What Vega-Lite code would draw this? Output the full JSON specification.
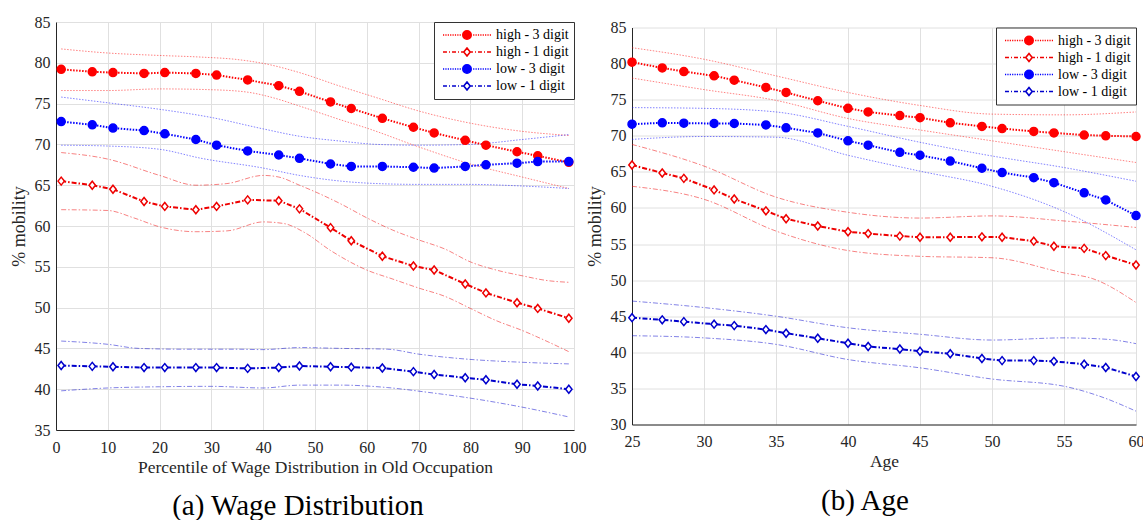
{
"$schema": "https://vega.github.io/schema/vega-lite/v6.json",
"background": "white",
"padding": {"left": 10, "top": 14, "right": 2, "bottom": 0},
"config": {
  "view": {"stroke": null},
  "font": "Liberation Serif",
  "axis": {"grid": true, "gridColor": "#e0e0e0", "gridWidth": 1, "domainColor": "#262626", "domainWidth": 1, "ticks": false, "labelFont": "Liberation Serif", "labelFontSize": 16, "labelColor": "#262626", "titleFont": "Liberation Serif", "titleFontSize": 17.5, "titleFontWeight": "normal", "titleColor": "#262626", "labelFlush": false, "labelOverlap": false},
  "axisX": {"labelPadding": 9, "titlePadding": 3},
  "axisY": {"labelPadding": 6, "titlePadding": 6, "titleFontSize": 18},
  "title": {"font": "Liberation Serif", "fontSize": 29, "fontWeight": "normal", "color": "black", "anchor": "middle", "frame": "bounds"},
  "legend": {"title": null, "orient": "top-right", "offset": 0, "padding": 5, "strokeColor": "#333333", "fillColor": "#ffffff", "cornerRadius": 0, "labelFont": "Liberation Serif", "labelFontSize": 14, "labelColor": "#000000", "labelLimit": 300, "symbolSize": 196, "symbolStrokeWidth": 1.6, "symbolOffset": 20, "labelOffset": 21, "rowPadding": 1, "symbolOpacity": 1}
},
"datasets": {
"a_main": [
{"x":1,"series":"high - 3 digit","y":79.2},{"x":7,"series":"high - 3 digit","y":78.9},{"x":11,"series":"high - 3 digit","y":78.8},{"x":17,"series":"high - 3 digit","y":78.7},{"x":21,"series":"high - 3 digit","y":78.8},{"x":27,"series":"high - 3 digit","y":78.7},{"x":31,"series":"high - 3 digit","y":78.5},{"x":37,"series":"high - 3 digit","y":77.9},{"x":43,"series":"high - 3 digit","y":77.2},{"x":47,"series":"high - 3 digit","y":76.5},{"x":53,"series":"high - 3 digit","y":75.2},{"x":57,"series":"high - 3 digit","y":74.4},{"x":63,"series":"high - 3 digit","y":73.2},{"x":69,"series":"high - 3 digit","y":72.1},{"x":73,"series":"high - 3 digit","y":71.4},{"x":79,"series":"high - 3 digit","y":70.5},{"x":83,"series":"high - 3 digit","y":69.9},{"x":89,"series":"high - 3 digit","y":69.1},{"x":93,"series":"high - 3 digit","y":68.6},{"x":99,"series":"high - 3 digit","y":67.8},
{"x":1,"series":"high - 1 digit","y":65.5},{"x":7,"series":"high - 1 digit","y":65.0},{"x":11,"series":"high - 1 digit","y":64.5},{"x":17,"series":"high - 1 digit","y":63.0},{"x":21,"series":"high - 1 digit","y":62.4},{"x":27,"series":"high - 1 digit","y":62.0},{"x":31,"series":"high - 1 digit","y":62.4},{"x":37,"series":"high - 1 digit","y":63.2},{"x":43,"series":"high - 1 digit","y":63.1},{"x":47,"series":"high - 1 digit","y":62.1},{"x":53,"series":"high - 1 digit","y":59.8},{"x":57,"series":"high - 1 digit","y":58.2},{"x":63,"series":"high - 1 digit","y":56.3},{"x":69,"series":"high - 1 digit","y":55.1},{"x":73,"series":"high - 1 digit","y":54.6},{"x":79,"series":"high - 1 digit","y":52.9},{"x":83,"series":"high - 1 digit","y":51.8},{"x":89,"series":"high - 1 digit","y":50.6},{"x":93,"series":"high - 1 digit","y":49.9},{"x":99,"series":"high - 1 digit","y":48.7},
{"x":1,"series":"low - 3 digit","y":72.8},{"x":7,"series":"low - 3 digit","y":72.4},{"x":11,"series":"low - 3 digit","y":72.0},{"x":17,"series":"low - 3 digit","y":71.7},{"x":21,"series":"low - 3 digit","y":71.3},{"x":27,"series":"low - 3 digit","y":70.6},{"x":31,"series":"low - 3 digit","y":69.9},{"x":37,"series":"low - 3 digit","y":69.2},{"x":43,"series":"low - 3 digit","y":68.7},{"x":47,"series":"low - 3 digit","y":68.3},{"x":53,"series":"low - 3 digit","y":67.6},{"x":57,"series":"low - 3 digit","y":67.3},{"x":63,"series":"low - 3 digit","y":67.3},{"x":69,"series":"low - 3 digit","y":67.2},{"x":73,"series":"low - 3 digit","y":67.1},{"x":79,"series":"low - 3 digit","y":67.3},{"x":83,"series":"low - 3 digit","y":67.5},{"x":89,"series":"low - 3 digit","y":67.7},{"x":93,"series":"low - 3 digit","y":67.9},{"x":99,"series":"low - 3 digit","y":67.9},
{"x":1,"series":"low - 1 digit","y":42.9},{"x":7,"series":"low - 1 digit","y":42.8},{"x":11,"series":"low - 1 digit","y":42.75},{"x":17,"series":"low - 1 digit","y":42.65},{"x":21,"series":"low - 1 digit","y":42.65},{"x":27,"series":"low - 1 digit","y":42.65},{"x":31,"series":"low - 1 digit","y":42.65},{"x":37,"series":"low - 1 digit","y":42.55},{"x":43,"series":"low - 1 digit","y":42.65},{"x":47,"series":"low - 1 digit","y":42.85},{"x":53,"series":"low - 1 digit","y":42.75},{"x":57,"series":"low - 1 digit","y":42.7},{"x":63,"series":"low - 1 digit","y":42.6},{"x":69,"series":"low - 1 digit","y":42.15},{"x":73,"series":"low - 1 digit","y":41.8},{"x":79,"series":"low - 1 digit","y":41.4},{"x":83,"series":"low - 1 digit","y":41.15},{"x":89,"series":"low - 1 digit","y":40.6},{"x":93,"series":"low - 1 digit","y":40.4},{"x":99,"series":"low - 1 digit","y":40.0}
],
"a_band": [
{"x":1,"series":"high - 3 digit","bound":"upper","y":81.7},{"x":10,"series":"high - 3 digit","bound":"upper","y":81.2},{"x":20,"series":"high - 3 digit","bound":"upper","y":80.9},{"x":28,"series":"high - 3 digit","bound":"upper","y":80.7},{"x":35,"series":"high - 3 digit","bound":"upper","y":80.4},{"x":41,"series":"high - 3 digit","bound":"upper","y":79.8},{"x":47,"series":"high - 3 digit","bound":"upper","y":78.8},{"x":55,"series":"high - 3 digit","bound":"upper","y":77.1},{"x":62,"series":"high - 3 digit","bound":"upper","y":75.7},{"x":70,"series":"high - 3 digit","bound":"upper","y":74.1},{"x":80,"series":"high - 3 digit","bound":"upper","y":72.6},{"x":90,"series":"high - 3 digit","bound":"upper","y":71.6},{"x":99,"series":"high - 3 digit","bound":"upper","y":71.1},
{"x":1,"series":"high - 3 digit","bound":"lower","y":76.6},{"x":10,"series":"high - 3 digit","bound":"lower","y":76.6},{"x":20,"series":"high - 3 digit","bound":"lower","y":76.8},{"x":30,"series":"high - 3 digit","bound":"lower","y":76.7},{"x":37,"series":"high - 3 digit","bound":"lower","y":76.4},{"x":42,"series":"high - 3 digit","bound":"lower","y":75.7},{"x":47,"series":"high - 3 digit","bound":"lower","y":74.7},{"x":55,"series":"high - 3 digit","bound":"lower","y":73.0},{"x":60,"series":"high - 3 digit","bound":"lower","y":72.0},{"x":70,"series":"high - 3 digit","bound":"lower","y":69.7},{"x":80,"series":"high - 3 digit","bound":"lower","y":67.6},{"x":90,"series":"high - 3 digit","bound":"lower","y":66.0},{"x":99,"series":"high - 3 digit","bound":"lower","y":64.6},
{"x":1,"series":"low - 3 digit","bound":"upper","y":75.8},{"x":10,"series":"low - 3 digit","bound":"upper","y":75.1},{"x":20,"series":"low - 3 digit","bound":"upper","y":74.3},{"x":30,"series":"low - 3 digit","bound":"upper","y":73.3},{"x":40,"series":"low - 3 digit","bound":"upper","y":71.9},{"x":47,"series":"low - 3 digit","bound":"upper","y":71.0},{"x":55,"series":"low - 3 digit","bound":"upper","y":70.4},{"x":62,"series":"low - 3 digit","bound":"upper","y":70.0},{"x":70,"series":"low - 3 digit","bound":"upper","y":69.9},{"x":80,"series":"low - 3 digit","bound":"upper","y":70.0},{"x":90,"series":"low - 3 digit","bound":"upper","y":70.6},{"x":99,"series":"low - 3 digit","bound":"upper","y":71.2},
{"x":1,"series":"low - 3 digit","bound":"lower","y":69.9},{"x":10,"series":"low - 3 digit","bound":"lower","y":69.8},{"x":20,"series":"low - 3 digit","bound":"lower","y":69.4},{"x":28,"series":"low - 3 digit","bound":"lower","y":68.3},{"x":40,"series":"low - 3 digit","bound":"lower","y":67.1},{"x":47,"series":"low - 3 digit","bound":"lower","y":66.2},{"x":55,"series":"low - 3 digit","bound":"lower","y":65.5},{"x":62,"series":"low - 3 digit","bound":"lower","y":65.2},{"x":70,"series":"low - 3 digit","bound":"lower","y":65.1},{"x":80,"series":"low - 3 digit","bound":"lower","y":65.1},{"x":90,"series":"low - 3 digit","bound":"lower","y":64.9},{"x":99,"series":"low - 3 digit","bound":"lower","y":64.6},
{"x":1,"series":"high - 1 digit","bound":"upper","y":69.0},{"x":10,"series":"high - 1 digit","bound":"upper","y":68.2},{"x":20,"series":"high - 1 digit","bound":"upper","y":66.2},{"x":27,"series":"high - 1 digit","bound":"upper","y":65.0},{"x":33,"series":"high - 1 digit","bound":"upper","y":65.2},{"x":40,"series":"high - 1 digit","bound":"upper","y":66.2},{"x":43,"series":"high - 1 digit","bound":"upper","y":66.0},{"x":47,"series":"high - 1 digit","bound":"upper","y":65.0},{"x":50,"series":"high - 1 digit","bound":"upper","y":64.2},{"x":55,"series":"high - 1 digit","bound":"upper","y":62.7},{"x":60,"series":"high - 1 digit","bound":"upper","y":61.0},{"x":65,"series":"high - 1 digit","bound":"upper","y":59.5},{"x":70,"series":"high - 1 digit","bound":"upper","y":58.3},{"x":75,"series":"high - 1 digit","bound":"upper","y":57.2},{"x":80,"series":"high - 1 digit","bound":"upper","y":55.6},{"x":85,"series":"high - 1 digit","bound":"upper","y":54.6},{"x":90,"series":"high - 1 digit","bound":"upper","y":53.9},{"x":95,"series":"high - 1 digit","bound":"upper","y":53.3},{"x":99,"series":"high - 1 digit","bound":"upper","y":53.1},
{"x":1,"series":"high - 1 digit","bound":"lower","y":62.0},{"x":10,"series":"high - 1 digit","bound":"lower","y":61.9},{"x":15,"series":"high - 1 digit","bound":"lower","y":61.0},{"x":20,"series":"high - 1 digit","bound":"lower","y":59.9},{"x":27,"series":"high - 1 digit","bound":"lower","y":59.3},{"x":33,"series":"high - 1 digit","bound":"lower","y":59.4},{"x":40,"series":"high - 1 digit","bound":"lower","y":60.5},{"x":44,"series":"high - 1 digit","bound":"lower","y":60.3},{"x":48,"series":"high - 1 digit","bound":"lower","y":59.2},{"x":53,"series":"high - 1 digit","bound":"lower","y":57.0},{"x":60,"series":"high - 1 digit","bound":"lower","y":54.6},{"x":65,"series":"high - 1 digit","bound":"lower","y":53.5},{"x":70,"series":"high - 1 digit","bound":"lower","y":52.4},{"x":75,"series":"high - 1 digit","bound":"lower","y":51.4},{"x":80,"series":"high - 1 digit","bound":"lower","y":49.9},{"x":85,"series":"high - 1 digit","bound":"lower","y":48.4},{"x":90,"series":"high - 1 digit","bound":"lower","y":47.2},{"x":95,"series":"high - 1 digit","bound":"lower","y":45.8},{"x":99,"series":"high - 1 digit","bound":"lower","y":44.6},
{"x":1,"series":"low - 1 digit","bound":"upper","y":45.9},{"x":10,"series":"low - 1 digit","bound":"upper","y":45.5},{"x":16,"series":"low - 1 digit","bound":"upper","y":45.0},{"x":25,"series":"low - 1 digit","bound":"upper","y":44.9},{"x":35,"series":"low - 1 digit","bound":"upper","y":44.9},{"x":40,"series":"low - 1 digit","bound":"upper","y":44.85},{"x":47,"series":"low - 1 digit","bound":"upper","y":45.1},{"x":55,"series":"low - 1 digit","bound":"upper","y":45.0},{"x":64,"series":"low - 1 digit","bound":"upper","y":44.9},{"x":70,"series":"low - 1 digit","bound":"upper","y":44.3},{"x":79,"series":"low - 1 digit","bound":"upper","y":43.7},{"x":90,"series":"low - 1 digit","bound":"upper","y":43.3},{"x":99,"series":"low - 1 digit","bound":"upper","y":43.1},
{"x":1,"series":"low - 1 digit","bound":"lower","y":39.8},{"x":10,"series":"low - 1 digit","bound":"lower","y":40.15},{"x":20,"series":"low - 1 digit","bound":"lower","y":40.3},{"x":30,"series":"low - 1 digit","bound":"lower","y":40.35},{"x":40,"series":"low - 1 digit","bound":"lower","y":40.15},{"x":47,"series":"low - 1 digit","bound":"lower","y":40.5},{"x":55,"series":"low - 1 digit","bound":"lower","y":40.5},{"x":64,"series":"low - 1 digit","bound":"lower","y":40.2},{"x":72,"series":"low - 1 digit","bound":"lower","y":39.6},{"x":79,"series":"low - 1 digit","bound":"lower","y":39.0},{"x":90,"series":"low - 1 digit","bound":"lower","y":37.8},{"x":99,"series":"low - 1 digit","bound":"lower","y":36.6}
],
"b_main": [
{"x":25,"series":"high - 3 digit","y":80.2},{"x":27.1,"series":"high - 3 digit","y":79.4},{"x":28.6,"series":"high - 3 digit","y":78.9},{"x":30.7,"series":"high - 3 digit","y":78.3},{"x":32.1,"series":"high - 3 digit","y":77.7},{"x":34.3,"series":"high - 3 digit","y":76.7},{"x":35.7,"series":"high - 3 digit","y":76.0},{"x":37.9,"series":"high - 3 digit","y":74.85},{"x":40,"series":"high - 3 digit","y":73.8},{"x":41.4,"series":"high - 3 digit","y":73.3},{"x":43.6,"series":"high - 3 digit","y":72.8},{"x":45,"series":"high - 3 digit","y":72.5},{"x":47.1,"series":"high - 3 digit","y":71.8},{"x":49.3,"series":"high - 3 digit","y":71.3},{"x":50.7,"series":"high - 3 digit","y":71.0},{"x":52.9,"series":"high - 3 digit","y":70.6},{"x":54.3,"series":"high - 3 digit","y":70.4},{"x":56.4,"series":"high - 3 digit","y":70.1},{"x":57.9,"series":"high - 3 digit","y":70.0},{"x":60,"series":"high - 3 digit","y":69.9},
{"x":25,"series":"high - 1 digit","y":65.95},{"x":27.1,"series":"high - 1 digit","y":64.85},{"x":28.6,"series":"high - 1 digit","y":64.1},{"x":30.7,"series":"high - 1 digit","y":62.5},{"x":32.1,"series":"high - 1 digit","y":61.25},{"x":34.3,"series":"high - 1 digit","y":59.6},{"x":35.7,"series":"high - 1 digit","y":58.5},{"x":37.9,"series":"high - 1 digit","y":57.5},{"x":40,"series":"high - 1 digit","y":56.7},{"x":41.4,"series":"high - 1 digit","y":56.45},{"x":43.6,"series":"high - 1 digit","y":56.1},{"x":45,"series":"high - 1 digit","y":55.95},{"x":47.1,"series":"high - 1 digit","y":55.95},{"x":49.3,"series":"high - 1 digit","y":56.0},{"x":50.7,"series":"high - 1 digit","y":55.95},{"x":52.9,"series":"high - 1 digit","y":55.4},{"x":54.3,"series":"high - 1 digit","y":54.7},{"x":56.4,"series":"high - 1 digit","y":54.4},{"x":57.9,"series":"high - 1 digit","y":53.4},{"x":60,"series":"high - 1 digit","y":52.1},
{"x":25,"series":"low - 3 digit","y":71.6},{"x":27.1,"series":"low - 3 digit","y":71.8},{"x":28.6,"series":"low - 3 digit","y":71.75},{"x":30.7,"series":"low - 3 digit","y":71.7},{"x":32.1,"series":"low - 3 digit","y":71.7},{"x":34.3,"series":"low - 3 digit","y":71.5},{"x":35.7,"series":"low - 3 digit","y":71.1},{"x":37.9,"series":"low - 3 digit","y":70.4},{"x":40,"series":"low - 3 digit","y":69.3},{"x":41.4,"series":"low - 3 digit","y":68.7},{"x":43.6,"series":"low - 3 digit","y":67.7},{"x":45,"series":"low - 3 digit","y":67.3},{"x":47.1,"series":"low - 3 digit","y":66.5},{"x":49.3,"series":"low - 3 digit","y":65.5},{"x":50.7,"series":"low - 3 digit","y":64.9},{"x":52.9,"series":"low - 3 digit","y":64.2},{"x":54.3,"series":"low - 3 digit","y":63.5},{"x":56.4,"series":"low - 3 digit","y":62.1},{"x":57.9,"series":"low - 3 digit","y":61.1},{"x":60,"series":"low - 3 digit","y":58.95},
{"x":25,"series":"low - 1 digit","y":44.8},{"x":27.1,"series":"low - 1 digit","y":44.5},{"x":28.6,"series":"low - 1 digit","y":44.25},{"x":30.7,"series":"low - 1 digit","y":43.9},{"x":32.1,"series":"low - 1 digit","y":43.7},{"x":34.3,"series":"low - 1 digit","y":43.15},{"x":35.7,"series":"low - 1 digit","y":42.65},{"x":37.9,"series":"low - 1 digit","y":41.95},{"x":40,"series":"low - 1 digit","y":41.25},{"x":41.4,"series":"low - 1 digit","y":40.8},{"x":43.6,"series":"low - 1 digit","y":40.45},{"x":45,"series":"low - 1 digit","y":40.15},{"x":47.1,"series":"low - 1 digit","y":39.8},{"x":49.3,"series":"low - 1 digit","y":39.15},{"x":50.7,"series":"low - 1 digit","y":38.85},{"x":52.9,"series":"low - 1 digit","y":38.85},{"x":54.3,"series":"low - 1 digit","y":38.75},{"x":56.4,"series":"low - 1 digit","y":38.35},{"x":57.9,"series":"low - 1 digit","y":37.9},{"x":60,"series":"low - 1 digit","y":36.65}
],
"b_band": [
{"x":25,"series":"high - 3 digit","bound":"upper","y":82.2},{"x":30,"series":"high - 3 digit","bound":"upper","y":80.6},{"x":35,"series":"high - 3 digit","bound":"upper","y":78.3},{"x":40,"series":"high - 3 digit","bound":"upper","y":76.0},{"x":45,"series":"high - 3 digit","bound":"upper","y":74.2},{"x":50,"series":"high - 3 digit","bound":"upper","y":73.0},{"x":55,"series":"high - 3 digit","bound":"upper","y":72.9},{"x":60,"series":"high - 3 digit","bound":"upper","y":73.3},
{"x":25,"series":"high - 3 digit","bound":"lower","y":78.0},{"x":30,"series":"high - 3 digit","bound":"lower","y":76.4},{"x":35,"series":"high - 3 digit","bound":"lower","y":74.9},{"x":40,"series":"high - 3 digit","bound":"lower","y":72.4},{"x":45,"series":"high - 3 digit","bound":"lower","y":70.8},{"x":50,"series":"high - 3 digit","bound":"lower","y":69.3},{"x":55,"series":"high - 3 digit","bound":"lower","y":67.8},{"x":60,"series":"high - 3 digit","bound":"lower","y":66.3},
{"x":25,"series":"low - 3 digit","bound":"upper","y":73.9},{"x":30,"series":"low - 3 digit","bound":"upper","y":73.8},{"x":35,"series":"low - 3 digit","bound":"upper","y":73.3},{"x":40,"series":"low - 3 digit","bound":"upper","y":71.3},{"x":45,"series":"low - 3 digit","bound":"upper","y":69.1},{"x":50,"series":"low - 3 digit","bound":"upper","y":67.2},{"x":55,"series":"low - 3 digit","bound":"upper","y":65.6},{"x":60,"series":"low - 3 digit","bound":"upper","y":63.7},
{"x":25,"series":"low - 3 digit","bound":"lower","y":69.5},{"x":30,"series":"low - 3 digit","bound":"lower","y":69.9},{"x":35,"series":"low - 3 digit","bound":"lower","y":69.8},{"x":40,"series":"low - 3 digit","bound":"lower","y":67.3},{"x":45,"series":"low - 3 digit","bound":"lower","y":65.1},{"x":50,"series":"low - 3 digit","bound":"lower","y":63.0},{"x":55,"series":"low - 3 digit","bound":"lower","y":59.5},{"x":60,"series":"low - 3 digit","bound":"lower","y":54.2},
{"x":25,"series":"high - 1 digit","bound":"upper","y":68.8},{"x":30,"series":"high - 1 digit","bound":"upper","y":65.8},{"x":35,"series":"high - 1 digit","bound":"upper","y":61.5},{"x":40,"series":"high - 1 digit","bound":"upper","y":59.4},{"x":45,"series":"high - 1 digit","bound":"upper","y":58.6},{"x":50,"series":"high - 1 digit","bound":"upper","y":58.9},{"x":55,"series":"high - 1 digit","bound":"upper","y":58.2},{"x":60,"series":"high - 1 digit","bound":"upper","y":57.3},
{"x":25,"series":"high - 1 digit","bound":"lower","y":63.0},{"x":30,"series":"high - 1 digit","bound":"lower","y":61.2},{"x":35,"series":"high - 1 digit","bound":"lower","y":56.8},{"x":40,"series":"high - 1 digit","bound":"lower","y":54.1},{"x":45,"series":"high - 1 digit","bound":"lower","y":53.3},{"x":50,"series":"high - 1 digit","bound":"lower","y":53.1},{"x":55,"series":"high - 1 digit","bound":"lower","y":51.0},{"x":57,"series":"high - 1 digit","bound":"lower","y":50.2},{"x":60,"series":"high - 1 digit","bound":"lower","y":46.9},
{"x":25,"series":"low - 1 digit","bound":"upper","y":47.1},{"x":30,"series":"low - 1 digit","bound":"upper","y":46.2},{"x":35,"series":"low - 1 digit","bound":"upper","y":45.0},{"x":40,"series":"low - 1 digit","bound":"upper","y":43.4},{"x":45,"series":"low - 1 digit","bound":"upper","y":42.5},{"x":50,"series":"low - 1 digit","bound":"upper","y":41.7},{"x":55,"series":"low - 1 digit","bound":"upper","y":42.0},{"x":58,"series":"low - 1 digit","bound":"upper","y":41.8},{"x":60,"series":"low - 1 digit","bound":"upper","y":41.2},
{"x":25,"series":"low - 1 digit","bound":"lower","y":42.3},{"x":30,"series":"low - 1 digit","bound":"lower","y":42.0},{"x":35,"series":"low - 1 digit","bound":"lower","y":41.1},{"x":40,"series":"low - 1 digit","bound":"lower","y":39.0},{"x":45,"series":"low - 1 digit","bound":"lower","y":37.85},{"x":50,"series":"low - 1 digit","bound":"lower","y":36.3},{"x":55,"series":"low - 1 digit","bound":"lower","y":35.3},{"x":57.5,"series":"low - 1 digit","bound":"lower","y":33.9},{"x":60,"series":"low - 1 digit","bound":"lower","y":31.85}
]
},
"spacing": 58,
"bounds": "flush",
"center": true,
"resolve": {"legend": {"stroke": "independent"}},
"hconcat": [
{
 "width": 518, "height": 408,
 "title": {"text": "(a) Wage Distribution", "orient": "bottom", "offset": 16},
 "encoding": {
  "x": {"field": "x", "type": "quantitative", "scale": {"domain": [0, 100], "nice": false, "zero": false}, "axis": {"values": [0,10,20,30,40,50,60,70,80,90,100], "title": "Percentile of Wage Distribution in Old Occupation"}},
  "y": {"field": "y", "type": "quantitative", "scale": {"domain": [35, 85], "nice": false, "zero": false}, "axis": {"values": [35,40,45,50,55,60,65,70,75,80,85], "title": "% mobility"}}
 },
 "layer": [
  {"data": {"name": "a_band"}, "mark": {"type": "line", "strokeWidth": 0.9, "opacity": 0.55, "interpolate": "monotone"},
   "encoding": {
    "color": {"field": "series", "type": "nominal", "scale": {"domain": ["high - 3 digit","high - 1 digit","low - 3 digit","low - 1 digit"], "range": ["#ff0000","#ee0000","#0000ff","#0000cc"]}, "legend": null},
    "strokeDash": {"field": "series", "type": "nominal", "scale": {"domain": ["high - 3 digit","high - 1 digit","low - 3 digit","low - 1 digit"], "range": [[1.5,1.5],[5,2,1.5,2],[1.5,1.5],[5,2,1.5,2]]}, "legend": null}, "detail": {"field": "bound"}}},
  {"data": {"name": "a_main"}, "mark": {"type": "line", "strokeWidth": 2},
   "encoding": {
    "color": {"field": "series", "type": "nominal", "scale": {"domain": ["high - 3 digit","high - 1 digit","low - 3 digit","low - 1 digit"], "range": ["#ff0000","#ee0000","#0000ff","#0000cc"]}, "legend": null},
    "strokeDash": {"field": "series", "type": "nominal", "scale": {"domain": ["high - 3 digit","high - 1 digit","low - 3 digit","low - 1 digit"], "range": [[1.5,1.5],[5,2,1.5,2],[1.5,1.5],[5,2,1.5,2]]}, "legend": null}}},
  {"data": {"name": "a_main"}, "mark": {"type": "point", "size": 64, "strokeWidth": 1.5, "opacity": 1},
   "encoding": {
    "stroke": {"field": "series", "type": "nominal", "scale": {"domain": ["high - 3 digit","high - 1 digit","low - 3 digit","low - 1 digit"], "range": ["#ff0000","#ee0000","#0000ff","#0000cc"]},
     "legend": {
      "symbolType": {"expr": "(datum.value == 'high - 3 digit' || datum.value == 'low - 3 digit') ? 'M-3.43 0L-3.26 0M-3.09 0L-2.92 0M-2.75 0L-2.58 0M-2.41 0L-2.24 0M-2.07 0L-1.9 0M-1.73 0L-1.56 0M-1.39 0L-1.22 0M-1.05 0L-0.88 0M0.88 0L1.05 0M1.22 0L1.39 0M1.56 0L1.73 0M1.9 0L2.07 0M2.24 0L2.41 0M2.58 0L2.75 0M2.92 0L3.09 0M3.26 0L3.43 0M-0.6 0A0.6 0.6 0 1 0 0.6 0A0.6 0.6 0 1 0 -0.6 0Z' : 'M-3.43 0L-2.86 0M-2.57 0L-2.43 0M-2.14 0L-1.57 0M-1.28 0L-1.14 0M-0.85 0L-0.46 0M0.46 0L0.85 0M1.14 0L1.28 0M1.57 0L2.14 0M2.43 0L2.57 0M2.86 0L3.43 0M-0.46 0L0 -0.57L0.46 0L0 0.57Z'"},
      "symbolFillColor": {"expr": "datum.value == 'high - 3 digit' ? '#ff0000' : (datum.value == 'low - 3 digit' ? '#0000ff' : '#ffffff')"}
     }},
    "fill": {"field": "series", "type": "nominal", "scale": {"domain": ["high - 3 digit","high - 1 digit","low - 3 digit","low - 1 digit"], "range": ["#ff0000","#ffffff","#0000ff","#ffffff"]}, "legend": null},
    "shape": {"field": "series", "type": "nominal", "scale": {"domain": ["high - 3 digit","high - 1 digit","low - 3 digit","low - 1 digit"], "range": ["circle","M-0.8 0L0 -1L0.8 0L0 1Z","circle","M-0.8 0L0 -1L0.8 0L0 1Z"]}, "legend": null}
   }}
 ]
},
{
 "width": 504, "height": 397,
 "title": {"text": "(b) Age", "orient": "bottom", "offset": 17},
 "encoding": {
  "x": {"field": "x", "type": "quantitative", "scale": {"domain": [25, 60], "nice": false, "zero": false}, "axis": {"values": [25,30,35,40,45,50,55,60], "title": "Age"}},
  "y": {"field": "y", "type": "quantitative", "scale": {"domain": [30, 85], "nice": false, "zero": false}, "axis": {"values": [30,35,40,45,50,55,60,65,70,75,80,85], "title": "% mobility"}}
 },
 "layer": [
  {"data": {"name": "b_band"}, "mark": {"type": "line", "strokeWidth": 0.9, "opacity": 0.55, "interpolate": "monotone"},
   "encoding": {
    "color": {"field": "series", "type": "nominal", "scale": {"domain": ["high - 3 digit","high - 1 digit","low - 3 digit","low - 1 digit"], "range": ["#ff0000","#ee0000","#0000ff","#0000cc"]}, "legend": null},
    "strokeDash": {"field": "series", "type": "nominal", "scale": {"domain": ["high - 3 digit","high - 1 digit","low - 3 digit","low - 1 digit"], "range": [[1.5,1.5],[5,2,1.5,2],[1.5,1.5],[5,2,1.5,2]]}, "legend": null}, "detail": {"field": "bound"}}},
  {"data": {"name": "b_main"}, "mark": {"type": "line", "strokeWidth": 2},
   "encoding": {
    "color": {"field": "series", "type": "nominal", "scale": {"domain": ["high - 3 digit","high - 1 digit","low - 3 digit","low - 1 digit"], "range": ["#ff0000","#ee0000","#0000ff","#0000cc"]}, "legend": null},
    "strokeDash": {"field": "series", "type": "nominal", "scale": {"domain": ["high - 3 digit","high - 1 digit","low - 3 digit","low - 1 digit"], "range": [[1.5,1.5],[5,2,1.5,2],[1.5,1.5],[5,2,1.5,2]]}, "legend": null}}},
  {"data": {"name": "b_main"}, "mark": {"type": "point", "size": 64, "strokeWidth": 1.5, "opacity": 1},
   "encoding": {
    "stroke": {"field": "series", "type": "nominal", "scale": {"domain": ["high - 3 digit","high - 1 digit","low - 3 digit","low - 1 digit"], "range": ["#ff0000","#ee0000","#0000ff","#0000cc"]},
     "legend": {
      "symbolType": {"expr": "(datum.value == 'high - 3 digit' || datum.value == 'low - 3 digit') ? 'M-3.43 0L-3.26 0M-3.09 0L-2.92 0M-2.75 0L-2.58 0M-2.41 0L-2.24 0M-2.07 0L-1.9 0M-1.73 0L-1.56 0M-1.39 0L-1.22 0M-1.05 0L-0.88 0M0.88 0L1.05 0M1.22 0L1.39 0M1.56 0L1.73 0M1.9 0L2.07 0M2.24 0L2.41 0M2.58 0L2.75 0M2.92 0L3.09 0M3.26 0L3.43 0M-0.6 0A0.6 0.6 0 1 0 0.6 0A0.6 0.6 0 1 0 -0.6 0Z' : 'M-3.43 0L-2.86 0M-2.57 0L-2.43 0M-2.14 0L-1.57 0M-1.28 0L-1.14 0M-0.85 0L-0.46 0M0.46 0L0.85 0M1.14 0L1.28 0M1.57 0L2.14 0M2.43 0L2.57 0M2.86 0L3.43 0M-0.46 0L0 -0.57L0.46 0L0 0.57Z'"},
      "symbolFillColor": {"expr": "datum.value == 'high - 3 digit' ? '#ff0000' : (datum.value == 'low - 3 digit' ? '#0000ff' : '#ffffff')"}
     }},
    "fill": {"field": "series", "type": "nominal", "scale": {"domain": ["high - 3 digit","high - 1 digit","low - 3 digit","low - 1 digit"], "range": ["#ff0000","#ffffff","#0000ff","#ffffff"]}, "legend": null},
    "shape": {"field": "series", "type": "nominal", "scale": {"domain": ["high - 3 digit","high - 1 digit","low - 3 digit","low - 1 digit"], "range": ["circle","M-0.8 0L0 -1L0.8 0L0 1Z","circle","M-0.8 0L0 -1L0.8 0L0 1Z"]}, "legend": null}
   }}
 ]
}
]
}
